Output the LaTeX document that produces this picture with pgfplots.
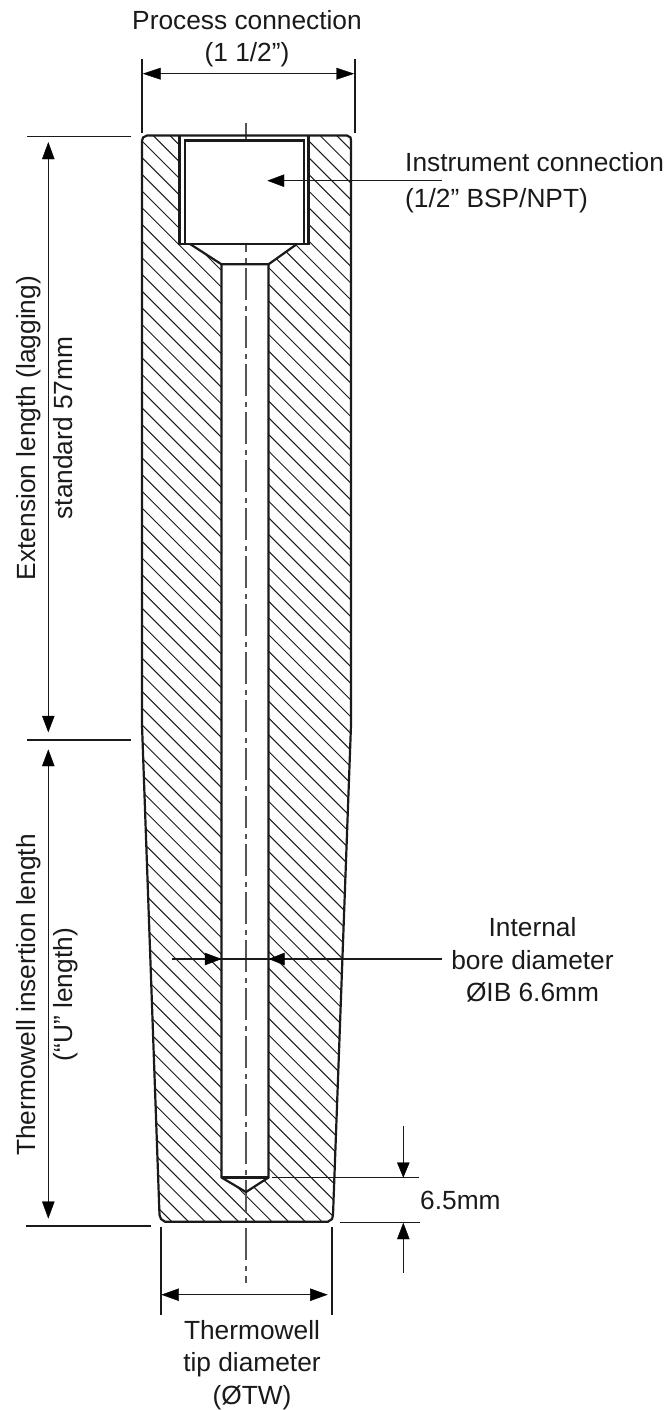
\documentclass[border=0pt]{standalone}
\usepackage{fontspec}
\setmainfont{Liberation Sans}
\usepackage{pgfplots}
\pgfplotsset{compat=1.18}
\definecolor{ink}{HTML}{1A1A1A}
\definecolor{cl}{HTML}{555555}
\newcommand{\T}{\fontsize{26.3pt}{30pt}\selectfont}
\begin{document}
\begin{tikzpicture}
\useasboundingbox (0,0) rectangle (669pt,1410pt);
\begin{axis}[at={(0,0)},anchor=south west,width=669pt,height=1410pt,scale only axis,
  xmin=0,xmax=669,ymin=0,ymax=1410,y dir=reverse,hide axis,clip=false,
  nodes={inner sep=0pt,text=ink}]
% hatching
\addplot[ink,line width=1pt,no markers,quiver={u=212,v=212}] coordinates {(140,-61.16)(140,-44.48)(140,-27.8)(140,-11.12)(140,5.56)(140,22.24)(140,38.92)(140,55.6)(140,72.28)(140,88.96)(140,105.64)(140,122.32)(140,139)(140,155.68)(140,172.36)(140,189.04)(140,205.72)(140,222.4)(140,239.08)(140,255.76)(140,272.44)(140,289.12)(140,305.8)(140,322.48)(140,339.16)(140,355.84)(140,372.52)(140,389.2)(140,405.88)(140,422.56)(140,439.24)(140,455.92)(140,472.6)(140,489.28)(140,505.96)(140,522.64)(140,539.32)(140,556)(140,572.68)(140,589.36)(140,606.04)(140,622.72)(140,639.4)(140,656.08)(140,672.76)(140,689.44)(140,706.12)(140,722.8)(140,739.48)(140,756.16)(140,772.84)(140,789.52)(140,806.2)(140,822.88)(140,839.56)(140,856.24)(140,872.92)(140,889.6)(140,906.28)(140,922.96)(140,939.64)(140,956.32)(140,973)(140,989.68)(140,1006.36)(140,1023.04)(140,1039.72)(140,1056.4)(140,1073.08)(140,1089.76)(140,1106.44)(140,1123.12)(140,1139.8)(140,1156.48)(140,1173.16)(140,1189.84)};
% masks
\addplot[white,fill=white,no markers] coordinates {(130,-100)(142,-100)(142,725)(159,1222)(159,1420)(130,1420)} --cycle;
\addplot[white,fill=white,no markers] coordinates {(360,-100)(351,-100)(351,725)(333,1222)(333,1420)(360,1420)} --cycle;
\addplot[white,fill=white,no markers] coordinates {(130,-100)(360,-100)(360,134)(130,134)} --cycle;
\addplot[white,fill=white,no markers] coordinates {(130,1222)(360,1222)(360,1420)(130,1420)} --cycle;
\addplot[white,fill=white,no markers] coordinates {(179,134)(309,134)(309,244)(297,244)(268,264)(268,1177)(246,1192)(222,1177)(222,264)(190,244)(179,244)} --cycle;
% centre line
\addplot[cl,line width=1.5pt,no markers] coordinates {(246,123)(246,140)};
\addplot[cl,line width=1.5pt,no markers,dash pattern=on 32pt off 6pt on 5pt off 5pt,dash phase=24pt] coordinates {(246,244)(246,1283)};
% outline
\addplot[ink,line width=2.2pt,no markers] coordinates {(142,141)(143,137.5)(147,135.5)(347,135.5)(350.5,137.5)(351,141)(351,725)(333,1215)(332,1219)(328,1221.7)(165,1221.7)(161,1219)(159.5,1215)(142,725)} --cycle;
% cavity
\addplot[ink,line width=2.2pt,no markers] coordinates {(179.5,135.5)(179.5,244)(308.5,244)(308.5,135.5)};
\addplot[ink,line width=2.2pt,no markers] coordinates {(185,244)(185,140.5)(304,140.5)(304,244)};
\addplot[ink,line width=2.2pt,no markers] coordinates {(190,244)(221.5,264.3)(268.5,264.3)(297,244)};
% bore
\addplot[ink,line width=2.2pt,no markers] coordinates {(221.5,264.3)(221.5,1177.5)(246,1192)(268.5,1177.5)(268.5,264.3)};
\addplot[ink,line width=2.2pt,no markers] coordinates {(221.5,1177.5)(268.5,1177.5)};
% dimension lines
\addplot[ink,line width=1.2pt,no markers] coordinates {(142,59)(142,133)};
\addplot[ink,line width=1.2pt,no markers] coordinates {(355,59)(355,133)};
\addplot[ink,line width=1.2pt,no markers] coordinates {(150,73.7)(345,73.7)};
\addplot[black,fill=black,no markers] coordinates {(143.5,73.7)(160.5,68)(160.5,79.4)} --cycle;
\addplot[black,fill=black,no markers] coordinates {(353.5,73.7)(336.5,68)(336.5,79.4)} --cycle;
\addplot[ink,line width=1.2pt,no markers] coordinates {(27,136.7)(131,136.7)};
\addplot[ink,line width=1.2pt,no markers] coordinates {(26.7,740)(130.7,740)};
\addplot[ink,line width=1.2pt,no markers] coordinates {(26.3,1226)(151,1226)};
\addplot[ink,line width=1.2pt,no markers] coordinates {(48.3,150)(48.3,725)};
\addplot[ink,line width=1.2pt,no markers] coordinates {(48.3,758)(48.3,1210)};
\addplot[black,fill=black,no markers] coordinates {(48.3,142.7)(42.3,159)(54.3,159)} --cycle;
\addplot[black,fill=black,no markers] coordinates {(48.3,731.7)(42.3,716)(54.3,716)} --cycle;
\addplot[black,fill=black,no markers] coordinates {(48.3,750)(42.3,766)(54.3,766)} --cycle;
\addplot[black,fill=black,no markers] coordinates {(48.3,1218)(42.3,1201.7)(54.3,1201.7)} --cycle;
% instrument arrow
\addplot[ink,line width=1.2pt,no markers] coordinates {(275,180.7)(441.5,180.7)};
\addplot[black,fill=black,no markers] coordinates {(268,180.7)(284,174.7)(284,186.7)} --cycle;
% bore arrows
\addplot[ink,line width=1.2pt,no markers] coordinates {(172.3,959)(442,959)};
\addplot[black,fill=black,no markers] coordinates {(221,959)(205,953)(205,965)} --cycle;
\addplot[black,fill=black,no markers] coordinates {(269.3,959)(284.3,953)(284.3,965)} --cycle;
% 6.5 mm
\addplot[ink,line width=1.2pt,no markers] coordinates {(271.7,1177.5)(419,1177.5)};
\addplot[ink,line width=1.2pt,no markers] coordinates {(340,1222.7)(420,1222.7)};
\addplot[ink,line width=1.2pt,no markers] coordinates {(403.3,1126)(403.3,1170)};
\addplot[ink,line width=1.2pt,no markers] coordinates {(403.3,1230)(403.3,1272.7)};
\addplot[black,fill=black,no markers] coordinates {(403.3,1177)(397.3,1162.7)(409.3,1162.7)} --cycle;
\addplot[black,fill=black,no markers] coordinates {(403.3,1223.3)(397.3,1239)(409.3,1239)} --cycle;
% tip
\addplot[ink,line width=1.2pt,no markers] coordinates {(161,1227)(161,1315)};
\addplot[ink,line width=1.2pt,no markers] coordinates {(332,1227)(332,1315)};
\addplot[ink,line width=1.2pt,no markers] coordinates {(170,1294.7)(320,1294.7)};
\addplot[black,fill=black,no markers] coordinates {(162,1294.7)(178.7,1288.7)(178.7,1300.7)} --cycle;
\addplot[black,fill=black,no markers] coordinates {(327,1294.7)(310.3,1288.7)(310.3,1300.7)} --cycle;
% text
\node[anchor=base] at (axis cs:247,29) {\T Process connection};
\node[anchor=base] at (axis cs:247,61.5) {\T (1 1/2”)};
\node[anchor=base west] at (axis cs:405,171) {\T Instrument connection};
\node[anchor=base west] at (axis cs:405,207) {\T (1/2” BSP/NPT)};
\node[anchor=base,rotate=90] at (axis cs:35.6,428) {\T Extension length (lagging)};
\node[anchor=base,rotate=90] at (axis cs:72.7,428) {\T standard 57mm};
\node[anchor=base,rotate=90] at (axis cs:35.6,995) {\T Thermowell insertion length};
\node[anchor=base,rotate=90] at (axis cs:72.7,994.5) {\T (“U” length)};
\node[anchor=base] at (axis cs:532.5,936.7) {\T Internal};
\node[anchor=base] at (axis cs:532.5,969) {\T bore diameter};
\node[anchor=base] at (axis cs:532.5,1001) {\T ØIB 6.6mm};
\node[anchor=base west] at (axis cs:420,1209) {\T 6.5mm};
\node[anchor=base] at (axis cs:252,1339) {\T Thermowell};
\node[anchor=base] at (axis cs:252,1371.7) {\T tip diameter};
\node[anchor=base] at (axis cs:252,1404) {\T (ØTW)};
\end{axis}
\end{tikzpicture}
\end{document}
